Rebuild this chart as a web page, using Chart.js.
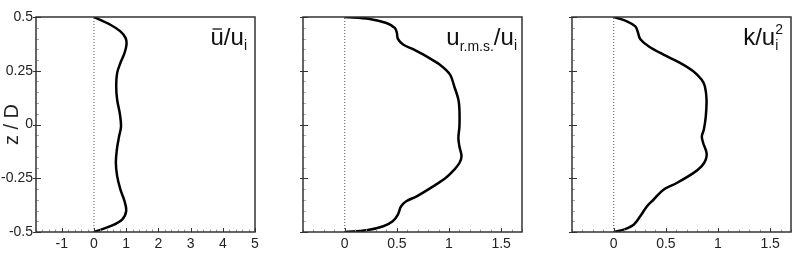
<!DOCTYPE html>
<html>
<head>
<meta charset="utf-8">
<script src="https://cdn.jsdelivr.net/npm/chart.js@4"></script>
<style>
  body { margin: 0; background: #fff; }
  #wrap { position: relative; width: 800px; height: 263px; }
  canvas { position: absolute; top: 0; }
</style>
</head>
<body>
<div id="wrap">
  <canvas id="c1" width="265" height="263" style="left:0px"></canvas>
  <canvas id="c2" width="260" height="263" style="left:270px"></canvas>
  <canvas id="c3" width="260" height="263" style="left:540px"></canvas>
</div>
<script>
// mean velocity profile
const zMean = [0.5, 0.464, 0.433, 0.403, 0.372, 0.333, 0.286, 0.24, 0.178, 0.115, 0.053, -0.009,
  -0.055, -0.117, -0.179, -0.24, -0.302, -0.357, -0.403, -0.442, -0.473, -0.5];
const uMean = [0, 0.51, 0.82, 0.98, 1.01, 0.95, 0.82, 0.72, 0.69, 0.72, 0.8, 0.84,
  0.78, 0.71, 0.68, 0.72, 0.82, 0.95, 1.0, 0.875, 0.51, 0];

// r.m.s. velocity profile
const zRms = [0.5, 0.491, 0.472, 0.449, 0.426, 0.398, 0.372, 0.349, 0.318, 0.279, 0.232, 0.178,
  0.116, 0.069, -0.009, -0.063, -0.102, -0.148, -0.179, -0.21, -0.248, -0.287, -0.334,
  -0.357, -0.381, -0.419, -0.45, -0.473, -0.492, -0.5];
const uRms = [0, 0.24, 0.4, 0.48, 0.5, 0.51, 0.56, 0.66, 0.78, 0.91, 1.01, 1.05,
  1.09, 1.1, 1.1, 1.09, 1.1, 1.12, 1.1, 1.05, 0.97, 0.85, 0.69,
  0.59, 0.54, 0.51, 0.46, 0.37, 0.21, 0];

// turbulent kinetic energy profile
const zK = [0.5, 0.48, 0.456, 0.433, 0.398, 0.364, 0.325, 0.287, 0.248, 0.209, 0.178, 0.116,
  0.038, -0.024, -0.055, -0.086, -0.132, -0.163, -0.195, -0.226, -0.272, -0.303,
  -0.35, -0.381, -0.427, -0.466, -0.489, -0.5];
const kVal = [0, 0.127, 0.207, 0.229, 0.254, 0.334, 0.477, 0.636, 0.763, 0.842, 0.874, 0.89,
  0.883, 0.864, 0.845, 0.858, 0.89, 0.883, 0.842, 0.763, 0.604, 0.477,
  0.381, 0.318, 0.254, 0.191, 0.095, 0];

const zTicks = [-0.5, -0.25, 0, 0.25, 0.5];
const xTicksMean = [-1, 0, 1, 2, 3, 4, 5];
const xTicksRms = [0, 0.5, 1, 1.5];

const FONT = "'Liberation Sans', Arial, sans-serif";

// box round the plot area plus inward tecplot-style ticks
const framePlugin = {
  id: 'frame',
  afterDraw(chart) {
    const { ctx, chartArea: a, scales } = chart;
    const cfg = chart.options.plugins.frame;
    ctx.save();
    ctx.lineWidth = 1;
    for (let i = 0; i <= 20; i++) {
      const y = Math.round(scales.y.getPixelForValue(-0.5 + i * 0.05)) + 0.5;
      const major = i % 5 === 0;
      ctx.strokeStyle = major ? '#333' : '#aaa';
      ctx.beginPath();
      ctx.moveTo(a.left - (major ? 3 : 0), y);
      ctx.lineTo(a.left + (major ? 5 : 3), y);
      ctx.stroke();
    }
    const n = Math.round(cfg.major / cfg.minor);
    const i0 = Math.ceil(cfg.xmin / cfg.minor - 1e-6);
    const i1 = Math.floor(cfg.xmax / cfg.minor + 1e-6);
    for (let i = i0; i <= i1; i++) {
      const x = Math.round(scales.x.getPixelForValue(i * cfg.minor)) + 0.5;
      const major = i % n === 0;
      ctx.strokeStyle = major ? '#333' : '#999';
      ctx.beginPath();
      ctx.moveTo(x, a.bottom);
      ctx.lineTo(x, a.bottom - (major ? 4 : 2.5));
      ctx.stroke();
    }
    ctx.strokeStyle = '#333';
    ctx.lineWidth = 1.5;
    ctx.strokeRect(a.left, a.top, a.right - a.left, a.bottom - a.top);

    // panel label, right aligned near the top
    const parts = cfg.title;
    let w = 0;
    const pos = [];
    let lastW = 0;
    parts.forEach((p) => {
      ctx.font = p.s + 'px ' + FONT;
      const tw = ctx.measureText(p.t).width;
      if (p.stack) {
        pos.push(w - lastW);
        w = Math.max(w, w - lastW + tw);
      } else {
        pos.push(w);
        w += tw;
        lastW = tw;
      }
    });
    const x0 = a.right - cfg.titleRight - w;
    const base = a.top + 28;
    ctx.fillStyle = '#111';
    ctx.textBaseline = 'alphabetic';
    ctx.textAlign = 'left';
    parts.forEach((p, i) => {
      ctx.font = p.s + 'px ' + FONT;
      ctx.fillText(p.t, x0 + pos[i], base + (p.dy || 0));
      if (p.over) {
        const tw = ctx.measureText(p.t).width;
        ctx.strokeStyle = '#111';
        ctx.lineWidth = 1.3;
        ctx.beginPath();
        ctx.moveTo(x0 + pos[i] + 2, base - 16);
        ctx.lineTo(x0 + pos[i] + tw - 2, base - 16);
        ctx.stroke();
      }
    });
    ctx.restore();
  }
};

function makeChart(id, zs, xs, cfg) {
  const pts = zs.map((z, i) => ({ x: xs[i], y: z }));
  return new Chart(document.getElementById(id), {
    type: 'scatter',
    data: {
      datasets: [
        {
          data: [{ x: 0, y: -0.5 }, { x: 0, y: 0.5 }],
          showLine: true, borderColor: '#555', borderWidth: 1,
          borderDash: [1, 2], pointRadius: 0
        },
        {
          data: pts, showLine: true, borderColor: '#000', borderWidth: 2.5,
          pointRadius: 0, tension: 0.35
        }
      ]
    },
    options: {
      responsive: false,
      animation: false,
      layout: { padding: { top: 17, right: cfg.padRight, left: 0, bottom: 0 } },
      plugins: {
        legend: { display: false },
        tooltip: { enabled: false },
        frame: cfg
      },
      scales: {
        x: {
          type: 'linear', min: cfg.xmin, max: cfg.xmax,
          grid: { display: false, drawTicks: false },
          border: { display: false },
          afterBuildTicks: (s) => { s.ticks = cfg.xTicks.map((v) => ({ value: v })); },
          afterFit: (s) => { s.height = 31; },
          ticks: {
            padding: 4, color: '#222', font: { family: FONT, size: 14 },
            maxRotation: 0, autoSkip: false, callback: (v) => String(v)
          }
        },
        y: {
          type: 'linear', min: -0.5, max: 0.5,
          grid: { display: false, drawTicks: false },
          border: { display: false },
          afterBuildTicks: (s) => { s.ticks = zTicks.map((v) => ({ value: v })); },
          afterFit: (s) => { s.width = cfg.yWidth; },
          ticks: {
            display: cfg.showY, padding: 3, color: '#222',
            font: { family: FONT, size: 14 }, callback: (v) => String(v)
          },
          title: {
            display: cfg.showY, text: 'z / D', color: '#222',
            font: { family: FONT, size: 20 }, padding: 0
          }
        }
      }
    },
    plugins: [framePlugin]
  });
}

makeChart('c1', zMean, uMean, {
  xmin: -1.8, xmax: 5, xTicks: xTicksMean, minor: 0.2, major: 1,
  padRight: 10, yWidth: 36, showY: true, titleRight: 8,
  title: [{ t: 'u', s: 24, over: true }, { t: '/u', s: 24 }, { t: 'i', s: 14, dy: 5 }]
});
makeChart('c2', zRms, uRms, {
  xmin: -0.4, xmax: 1.7, xTicks: xTicksRms, minor: 0.1, major: 0.5,
  padRight: 8, yWidth: 33, showY: false, titleRight: 5,
  title: [{ t: 'u', s: 24 }, { t: 'r.m.s.', s: 14, dy: 6 }, { t: '/u', s: 24 }, { t: 'i', s: 14, dy: 5 }]
});
makeChart('c3', zK, kVal, {
  xmin: -0.4, xmax: 1.7, xTicks: xTicksRms, minor: 0.1, major: 0.5,
  padRight: 9, yWidth: 32, showY: false, titleRight: 8,
  title: [{ t: 'k/u', s: 24 }, { t: 'i', s: 14, dy: 5 }, { t: '2', s: 14, dy: -11, stack: true }]
});
</script>
</body>
</html>
